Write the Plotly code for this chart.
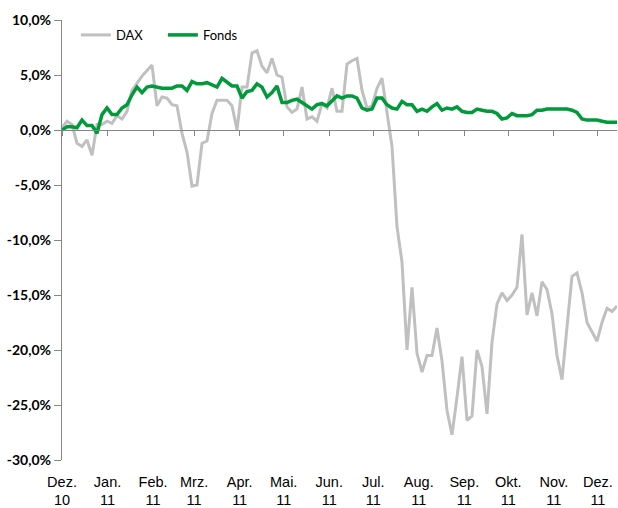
import plotly.graph_objects as go
import pandas as pd

dax = [
    0.2, 0.8, 0.5, -1.2, -1.5, -0.9, -2.3, 0.5, 0.5, 0.8,
    0.6, 1.3, 1.0, 1.7, 3.6, 4.3, 4.9, 5.4, 5.9, 2.2,
    3.0, 2.9, 2.3, 2.2, -0.3, -2.0, -5.1, -5.0, -1.2, -1.0,
    1.5, 2.7, 2.7, 2.7, 2.2, 0.0, 3.9, 3.9, 7.0, 7.2,
    5.8, 5.2, 6.5, 5.0, 4.8, 2.1, 1.6, 1.9, 3.9, 1.0,
    1.2, 0.8, 2.4, 2.0, 3.8, 1.7, 1.7, 6.0, 6.3, 6.5,
    3.6, 2.0, 2.2, 3.8, 4.7, 1.8, -1.5, -8.8, -12.0, -20.0,
    -14.3, -20.3, -22.0, -20.5, -20.5, -18.0, -21.0, -25.5, -27.7, -24.3,
    -20.6, -26.4, -26.0, -20.0, -21.5, -25.8, -19.3, -15.8, -14.8, -15.5,
    -15.0, -14.3, -9.5, -16.8, -14.8, -16.9, -13.8, -14.5, -16.7, -20.5,
    -22.7, -17.9, -13.3, -13.0, -14.8, -17.5, -18.3, -19.2, -17.5, -16.2,
    -16.5, -16.0,
]
fonds = [
    0.0, 0.3, 0.3, 0.2, 0.9, 0.4, 0.4, -0.3, 1.4, 2.0,
    1.4, 1.4, 2.0, 2.3, 3.2, 3.9, 3.4, 3.9, 4.0, 3.9,
    3.8, 3.8, 3.8, 4.0, 4.0, 3.6, 4.4, 4.2, 4.2, 4.3,
    4.1, 3.9, 4.7, 4.3, 4.0, 4.0, 2.9, 3.5, 3.6, 4.2,
    3.9, 3.0, 3.4, 4.0, 2.5, 2.5, 2.7, 2.8, 2.5, 2.2,
    1.9, 2.3, 2.4, 2.2, 2.7, 3.1, 2.9, 3.1, 3.1, 2.9,
    2.0, 1.8, 1.9, 2.9, 2.9, 2.3, 2.0, 1.9, 2.6, 2.3,
    2.3, 1.7, 1.9, 1.7, 2.1, 2.4, 1.8, 2.0, 1.9, 2.1,
    1.7, 1.6, 1.6, 1.9, 1.8, 1.7, 1.7, 1.5, 1.0, 1.1,
    1.5, 1.3, 1.3, 1.3, 1.4, 1.8, 1.8, 1.9, 1.9, 1.9,
    1.9, 1.9, 1.8, 1.6, 1.0, 0.9, 0.9, 0.9, 0.8, 0.7,
    0.7, 0.7,
]
dates = pd.date_range("2010-12-01", "2011-12-14", periods=len(dax))

tick_dates = ["2010-12-01", "2011-01-01", "2011-02-01", "2011-03-01", "2011-04-01",
              "2011-05-01", "2011-06-01", "2011-07-01", "2011-08-01", "2011-09-01",
              "2011-10-01", "2011-11-01", "2011-12-01"]
tick_labels = ["Dez.<br>10", "Jan.<br>11", "Feb.<br>11", "Mrz.<br>11", "Apr.<br>11",
               "Mai.<br>11", "Jun.<br>11", "Jul.<br>11", "Aug.<br>11", "Sep.<br>11",
               "Okt.<br>11", "Nov.<br>11", "Dez.<br>11"]
y_ticks = [10, 5, 0, -5, -10, -15, -20, -25, -30]
y_labels = ["10,0%", "5,0%", "0,0%", "-5,0%", "-10,0%", "-15,0%", "-20,0%", "-25,0%", "-30,0%"]

fig = go.Figure()
fig.add_trace(go.Scatter(x=dates, y=dax, mode="lines", name="DAX",
                         line=dict(color="#C0C0C0", width=3)))
fig.add_trace(go.Scatter(x=dates, y=fonds, mode="lines", name="Fonds",
                         line=dict(color="#009A3A", width=3.5)))

axis_col = "#868686"
fig.update_layout(
    width=618, height=508,
    margin=dict(l=62, r=1, t=20, b=48),
    paper_bgcolor="white", plot_bgcolor="white",
    showlegend=True,
    legend=dict(orientation="h", x=0.025, y=0.966, xanchor="left", yanchor="middle",
                font=dict(family="Lato", size=13, color="#000000"),
                itemwidth=30, entrywidth=42, entrywidthmode="pixels",
                bgcolor="rgba(0,0,0,0)", tracegroupgap=0),
    xaxis=dict(type="date", range=["2010-12-01", "2011-12-14"],
               tickvals=tick_dates, ticktext=tick_labels, automargin=False,
               showgrid=False, zeroline=False, showline=False, ticks="",
               ticklabelstandoff=11,
               tickfont=dict(family="Liberation Sans", size=14.5, color="#000000")),
    xaxis2=dict(type="date", overlaying="x", matches="x", anchor="free", position=0.75,
                tickvals=tick_dates, showticklabels=False, showgrid=False, zeroline=False,
                showline=True, linecolor=axis_col, linewidth=1.3, automargin=False,
                ticks="outside", ticklen=5, tickcolor=axis_col, tickwidth=1.3),
    yaxis=dict(range=[-30, 10], tickvals=y_ticks, ticktext=y_labels, automargin=False,
               showgrid=False, zeroline=False, showline=True, linecolor=axis_col,
               linewidth=1.3, ticks="outside", ticklen=7, tickcolor=axis_col,
               tickwidth=1.3,
               tickfont=dict(family="Lato", size=14, color="#000000", weight="bold")),
)
# invisible helper trace so the zero-line axis (xaxis2) is rendered
fig.add_trace(go.Scatter(x=[dates[0]], y=[0], xaxis="x2", mode="markers",
                         marker=dict(opacity=0), showlegend=False, hoverinfo="skip"))

fig.write_html("out.html", config={"displayModeBar": False},
               post_script="document.body.style.margin='0';document.body.style.padding='0';")
